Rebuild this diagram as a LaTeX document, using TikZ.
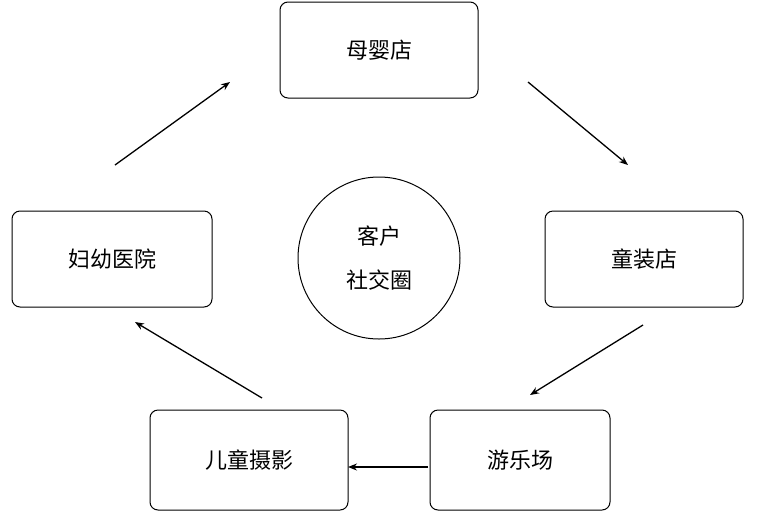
\documentclass[tikz,border=0pt]{standalone}
\usepackage{fontspec}
\setmainfont{Noto Sans CJK SC}
\usetikzlibrary{arrows.meta}
\begin{document}
\begin{tikzpicture}[x=1pt,y=-1pt,
  box/.style={draw,line width=1pt,rounded corners=8pt,minimum width=198pt,minimum height=96pt,font=\fontsize{22}{26}\selectfont},
  arr/.style={-{Stealth[length=9pt,width=7pt]},line width=1.3pt}]
\useasboundingbox (0,0) rectangle (763,523);
\node[box] (a) at (379,50) {母婴店};
\node[box] (b) at (644,259) {童装店};
\node[box,minimum width=180pt,minimum height=100pt] (c) at (520,460) {游乐场};
\node[box,minimum height=100pt] (d) at (249,460) {儿童摄影};
\node[box,minimum width=200pt] (e) at (112,259) {妇幼医院};
\node[draw,circle,line width=1pt,minimum size=162pt,align=center,font=\fontsize{22}{44}\selectfont] (m) at (379,258) {客户\\社交圈};
\coordinate (p1) at (115,165); \coordinate (q1) at (230,82);
\coordinate (p2) at (528,82); \coordinate (q2) at (628,165);
\coordinate (p3) at (643,325); \coordinate (q3) at (530,395);
\coordinate (p4) at (428,467); \coordinate (q4) at (348,467);
\coordinate (p5) at (262,398); \coordinate (q5) at (135,322);
\draw[arr] (p1) -- (q1);
\draw[arr] (p2) -- (q2);
\draw[arr] (p3) -- (q3);
\draw[arr] (p4) -- (q4);
\draw[arr] (p5) -- (q5);
\end{tikzpicture}
\end{document}
